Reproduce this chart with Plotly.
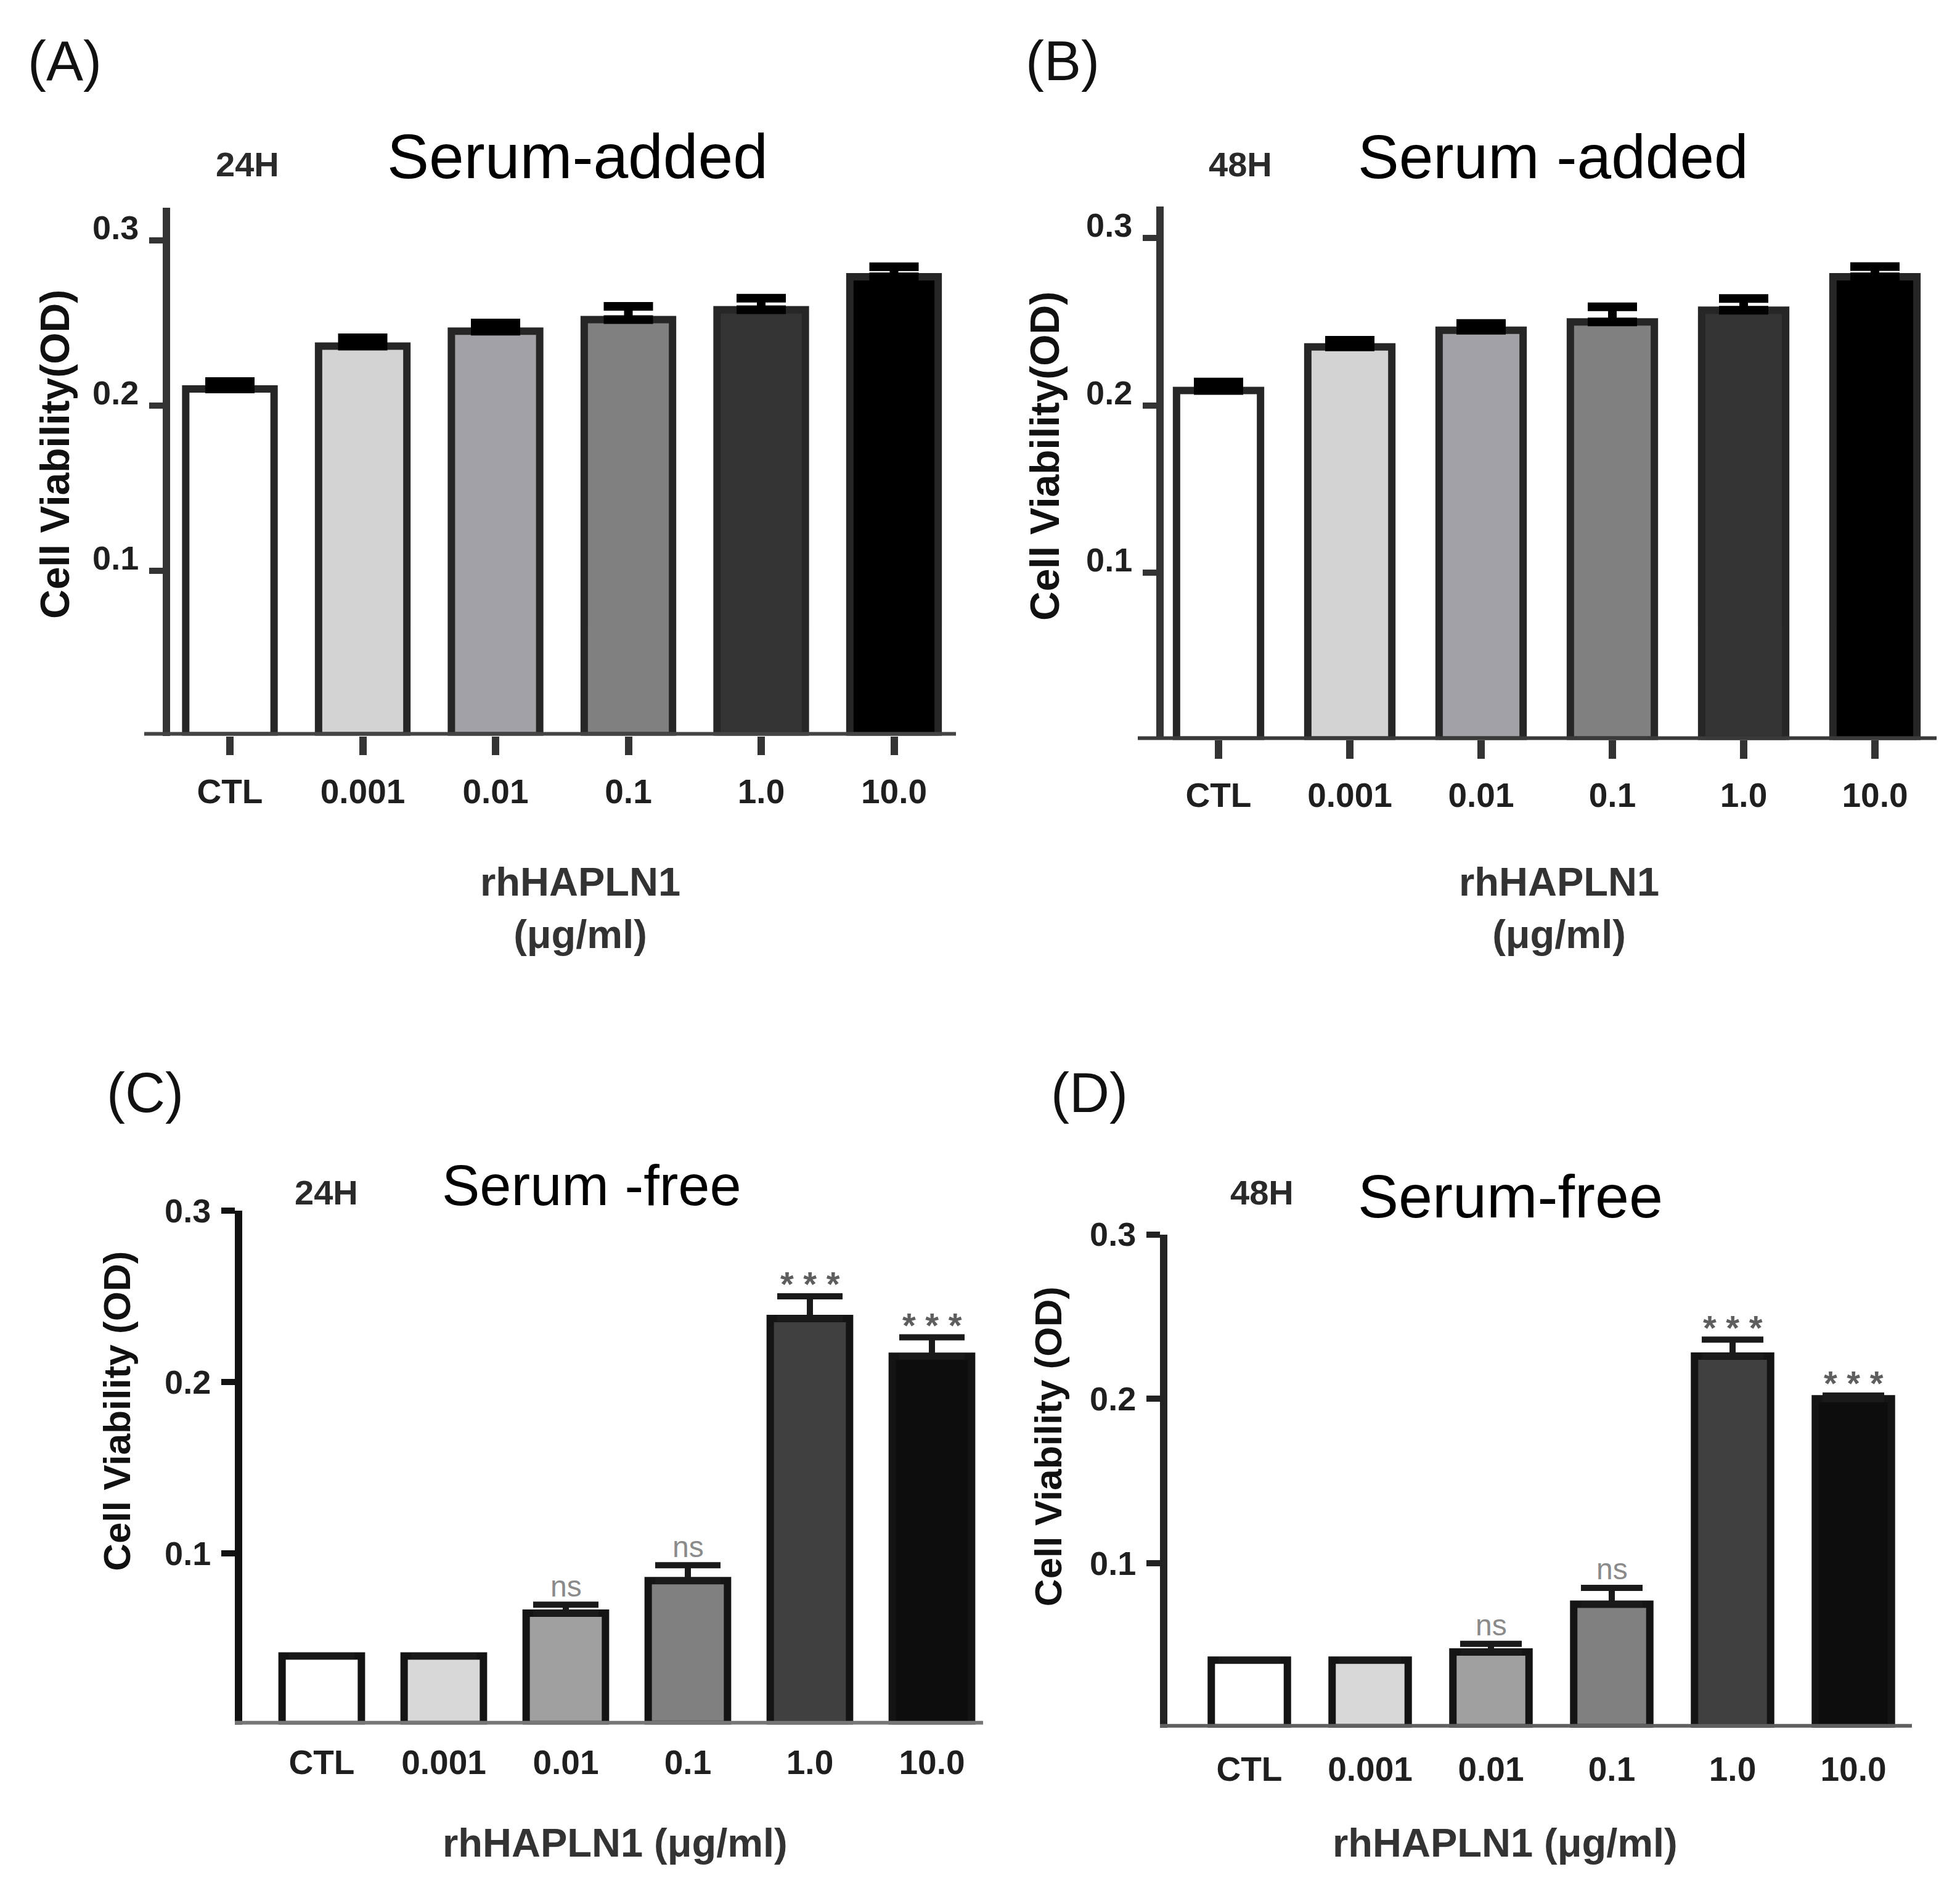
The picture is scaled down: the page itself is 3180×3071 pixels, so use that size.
import plotly.graph_objects as go

# ---------------- data ----------------
categories = ["CTL", "0.001", "0.01", "0.1", "1.0", "10.0"]

a_vals = [0.210, 0.236, 0.245, 0.252, 0.258, 0.278]
a_err = [0.0045, 0.005, 0.005, 0.008, 0.007, 0.006]

b_vals = [0.209, 0.235, 0.245, 0.250, 0.257, 0.277]
b_err = [0.005, 0.004, 0.004, 0.009, 0.007, 0.006]

c_vals = [0.040, 0.040, 0.065, 0.084, 0.237, 0.215]
c_err = [0.0, 0.0, 0.005, 0.009, 0.013, 0.011]
c_sig = ["", "", "ns", "ns", "***", "***"]

d_vals = [0.041, 0.041, 0.046, 0.075, 0.226, 0.200]
d_err = [0.0, 0.0, 0.005, 0.010, 0.010, 0.002]
d_sig = ["", "", "ns", "ns", "***", "***"]

y_tickvals = [0.1, 0.2, 0.3]
y_ticktext = ["0.1", "0.2", "0.3"]

panel_letters = ["(A)", "(B)", "(C)", "(D)"]
panel_times = ["24H", "48H", "24H", "48H"]
panel_titles = ["Serum-added", "Serum -added", "Serum -free", "Serum-free"]
y_titles = ["Cell Viability(OD)", "Cell Viability(OD)", "Cell Viability (OD)", "Cell Viability (OD)"]
x_titles = ["rhHAPLN1<br>(μg/ml)", "rhHAPLN1<br>(μg/ml)", "rhHAPLN1 (μg/ml)", "rhHAPLN1 (μg/ml)"]

# ---------------- styles / geometry (pixels) ----------------
W, H = 3180, 3071
FONT = "Liberation Sans"


def fx(px):
    return px / W


def fy(py):
    return 1 - py / H


colors_top = ["#ffffff", "#d3d3d3", "#a2a2a6", "#808080", "#333333", "#000000"]
colors_bot = ["#ffffff", "#d8d8d8", "#a0a0a0", "#808080", "#404040", "#0d0d0d"]

panels = [
    dict(vals=a_vals, err=a_err, sig=None, colors=colors_top, outline="#262626",
         axis_x=270, cat0=373, sp=215.5, right=1551, top=310, zero=1175, unit=2705,
         bw=0.665, ylc="#333333", xlc="#444444", overhang=30, xticks=True,
         ebw=40, ebt=14, ebc="#000000", tshift=-21,
         letter=(105, 70), time=(401, 239), title=(937, 226), title_size=102,
         ytitle=(89, 714), ytitle_size=66,
         xtitle=(941, 1457), ystand=6, xstand=12),
    dict(vals=b_vals, err=b_err, sig=None, colors=colors_top, outline="#262626",
         axis_x=1882, cat0=1977, sp=213, right=3142, top=308, zero=1182, unit=2740,
         bw=0.64, ylc="#333333", xlc="#3a3a3a", overhang=30, xticks=True,
         ebw=40, ebt=14, ebc="#000000", tshift=-21,
         letter=(1724, 70), time=(2012, 239), title=(2520, 226), title_size=100,
         ytitle=(1695, 717), ytitle_size=66,
         xtitle=(2529, 1457), ystand=6, xstand=12),
    dict(vals=c_vals, err=c_err, sig=c_sig, colors=colors_bot, outline="#141414",
         axis_x=387, cat0=522, sp=198, right=1595, top=1953, zero=2795, unit=None,
         bw=0.65, ylc="#111111", xlc="#777777", overhang=0, xticks=False,
         ebw=53, ebt=10, ebc="#1a1a1a", tshift=0,
         letter=(235, 1760), time=(529, 1923), title=(960, 1912), title_size=92,
         ytitle=(190, 2282), ytitle_size=62,
         xtitle=(998, 2989), ystand=6, xstand=24),
    dict(vals=d_vals, err=d_err, sig=d_sig, colors=colors_bot, outline="#141414",
         axis_x=1888, cat0=2027, sp=196, right=3102, top=1992, zero=2800, unit=None,
         bw=0.63, ylc="#222222", xlc="#606060", overhang=0, xticks=False,
         ebw=50, ebt=10, ebc="#1a1a1a", tshift=0,
         letter=(1767, 1760), time=(2047, 1923), title=(2450, 1929), title_size=99,
         ytitle=(1700, 2340), ytitle_size=62,
         xtitle=(2442, 2989), ystand=6, xstand=30),
]

fig = go.Figure()
layout = dict(
    width=W, height=H, margin=dict(l=0, r=0, t=0, b=0),
    paper_bgcolor="white", plot_bgcolor="white", showlegend=False,
    font=dict(family=FONT, color="#222222"),
)
annotations = []
shapes = []
LW = 12


def paper_text(text, pos, size, color, weight=400, angle=0):
    return dict(text=text, x=fx(pos[0]), y=fy(pos[1]), xref="paper", yref="paper",
                xanchor="center", yanchor="middle", showarrow=False, textangle=angle,
                font=dict(family=FONT, size=size, weight=weight, color=color))


for i, p in enumerate(panels):
    n = "" if i == 0 else str(i + 1)
    xa, ya = "x" + n, "y" + n
    left = p["axis_x"] + LW / 2
    dom_w = p["right"] - left
    r0 = -(p["cat0"] - left) / p["sp"]
    r1 = 5 + (p["right"] - (p["cat0"] + 5 * p["sp"])) / p["sp"]
    if p["unit"] is None:
        ymax = 0.3
    else:
        ymax = (p["zero"] - p["top"]) / p["unit"]

    fig.add_trace(go.Bar(
        x=categories, y=p["vals"], xaxis=xa, yaxis=ya, width=p["bw"],
        marker=dict(color=p["colors"], line=dict(color=p["outline"], width=LW)),
        error_y=dict(type="data", array=p["err"], arrayminus=[0] * 6, symmetric=False,
                     color=p["ebc"], thickness=p["ebt"], width=p["ebw"]),
        hoverinfo="skip",
    ))

    layout["xaxis" + n] = dict(
        type="category", categoryorder="array", categoryarray=categories,
        domain=[fx(left), fx(p["right"])], anchor=ya, range=[r0, r1],
        showline=False, showgrid=False, zeroline=False,
        ticks="outside" if p["xticks"] else "", ticklen=30, tickwidth=12, tickcolor="#333333",
        tickfont=dict(family=FONT, size=55, weight=700, color="#1f1f1f"),
        ticklabelstandoff=p["xstand"],
    )
    layout["yaxis" + n] = dict(
        domain=[fy(p["zero"]), fy(p["top"])], anchor=xa, range=[0, ymax],
        showline=True, linewidth=LW, linecolor=p["ylc"], showgrid=False, zeroline=False,
        tickmode="array", tickvals=y_tickvals, ticktext=y_ticktext,
        ticks="outside", ticklen=22, tickwidth=10, tickcolor=p["ylc"],
        tickfont=dict(family=FONT, size=54, weight=700, color="#1f1f1f"),
        ticklabelshift=p["tshift"], ticklabelstandoff=p["ystand"],
    )

    # x-axis baseline (extends slightly past the y-axis in A/B)
    shapes.append(dict(
        type="line", xref=xa + " domain", yref=ya,
        x0=-(p["overhang"] + LW) / dom_w, x1=1, y0=0, y1=0,
        line=dict(color=p["xlc"], width=LW), layer="above",
    ))

    annotations.append(paper_text(panel_letters[i], p["letter"], 90, "#111111"))
    annotations.append(paper_text(panel_times[i], p["time"], 56, "#2a2a2a", weight=700))
    annotations.append(paper_text(panel_titles[i], p["title"], p["title_size"], "#000000"))
    annotations.append(paper_text(y_titles[i], p["ytitle"], p["ytitle_size"], "#111111",
                                  weight=700, angle=-90))
    annotations.append(paper_text(x_titles[i], p["xtitle"], 65, "#333333", weight=700))

    if p["sig"] is not None:
        for k, (v, e, s) in enumerate(zip(p["vals"], p["err"], p["sig"])):
            if not s:
                continue
            if s == "ns":
                annotations.append(dict(text="ns", x=k, y=v + e, xref=xa, yref=ya,
                                        showarrow=False, xanchor="center", yanchor="middle", yshift=30,
                                        font=dict(family=FONT, size=48, color="#8a8a8a")))
            else:
                annotations.append(dict(text="* * *", x=k, y=v + e, xref=xa, yref=ya,
                                        showarrow=False, xanchor="center", yanchor="middle", yshift=20,
                                        font=dict(family=FONT, size=56, weight=700, color="#5e5e5e")))

layout["annotations"] = annotations
layout["shapes"] = shapes
fig.update_layout(**layout)
fig.write_html(
    "out.html",
    config={"displayModeBar": False},
    post_script="document.body.style.margin='0';document.body.style.overflow='hidden';",
)
